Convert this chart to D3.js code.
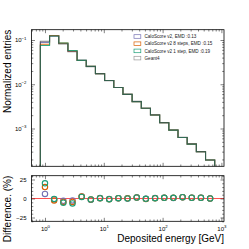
<!DOCTYPE html>
<html>
<head>
<meta charset="utf-8">
<script src="https://cdn.jsdelivr.net/npm/d3@7"></script>
<style>
  html, body { margin: 0; padding: 0; background: #fff; }
  svg { display: block; font-family: "Liberation Sans", Arial, sans-serif; }
</style>
</head>
<body>
<svg width="249" height="249"></svg>
<script>
// bin edges in GeV (log spaced)
const binEdges = [0.835, 1.197, 1.714, 2.455, 3.516, 5.035, 7.21, 10.33, 14.79, 21.18,
  30.34, 43.45, 62.23, 89.13, 127.6, 182.8, 261.8, 375.0, 537.0, 769.1];

// normalized entries per bin
const geant4 = [0.094, 0.123, 0.0812, 0.0544, 0.0354, 0.0250, 0.0174, 0.0121, 0.00847, 0.00592,
  0.00411, 0.00287, 0.00203, 0.00136, 0.000929, 0.000636, 0.000449, 0.000301, 0.000195];
const caloV2 = [0.0884, 0.124, 0.0836, 0.0558, 0.0345, 0.0254, 0.0173, 0.0122, 0.00844, 0.00592,
  0.00406, 0.00288, 0.00202, 0.00135, 0.000922, 0.000625, 0.000445, 0.000298, 0.000195];
const calo8 = [0.080, 0.126, 0.0849, 0.0568, 0.0345, 0.0253, 0.0173, 0.0122, 0.00844, 0.00591,
  0.00406, 0.00288, 0.00202, 0.00135, 0.000921, 0.000625, 0.000445, 0.000298, 0.000195];
const calo1 = [0.075, 0.1236, 0.0857, 0.0579, 0.0347, 0.0253, 0.0173, 0.0122, 0.00844, 0.00592,
  0.00406, 0.00288, 0.00202, 0.00135, 0.000921, 0.000625, 0.000445, 0.000298, 0.000195];

// difference (%) w.r.t. Geant4
const diffV2 = [6, -1, -3, -2.5, 2.5, -1.5, 0.5, -0.8, 0.4, 0, 1.2, -0.4, 0.5, 1, 0.8, 1.8, 1, 1, 0];
const diff8 = [15, -2.5, -4.5, -4.5, 2.5, -1.3, 0.4, -0.9, 0.4, 0.2, 1.3, -0.5, 0.4, 0.9, 0.9, 1.7, 1, 1, 0];
const diff1 = [20, -0.5, -5.5, -6.5, 2, -1.3, 0.4, -0.9, 0.4, 0, 1.3, -0.4, 0.4, 0.9, 0.9, 1.8, 1, 1, 0];

const legendLabels = ['CaloScore v2, EMD :0.13', 'CaloScore v2 8 steps, EMD :0.15',
  'CaloScore v2 1 step, EMD :0.19', 'Geant4'];
const colors = ['#7570b3', '#d95f02', '#1b9e77', '#999999'];

const xMajor = [1, 10, 100, 1000];
const yMajor = [1e-1, 1e-2, 1e-3];
const rMajor = [25, 0, -25];

let left = 31.5, right = 224;
let mainTop = 29.7, mainBottom = 166.3;
let ratioTop = 175.7, ratioBottom = 221.3;

let svg = d3.select('svg');

let x = d3.scaleLog().domain([0.59, 1107]).range([left, right]);
let y = d3.scaleLog().domain([1.4e-4, 0.171]).range([mainBottom, mainTop]);
let yr = d3.scaleLinear().domain([-30, 30]).range([ratioBottom, ratioTop]);

let defs = svg.append('defs');
defs.append('clipPath').attr('id', 'clipMain')
  .append('rect').attr('x', left).attr('y', mainTop).attr('width', right - left).attr('height', mainBottom - mainTop);
defs.append('clipPath').attr('id', 'clipRatio')
  .append('rect').attr('x', left).attr('y', ratioTop).attr('width', right - left).attr('height', ratioBottom - ratioTop);

function minorLog(scale) {
  let d = scale.domain();
  let lo = Math.min(d[0], d[1]), hi = Math.max(d[0], d[1]);
  let out = [];
  for (let e = Math.floor(Math.log10(lo)); e <= Math.ceil(Math.log10(hi)); e++) {
    for (let m = 2; m <= 9; m++) {
      let v = m * Math.pow(10, e);
      if (v >= lo && v <= hi) out.push(v);
    }
  }
  return out;
}

function supLabels(g, fmtExp) {
  g.selectAll('.tick text').each(function(d) {
    let t = d3.select(this);
    t.text(null);
    t.append('tspan').text('10');
    t.append('tspan').attr('font-size', 4.3).attr('dy', -2.6).text(fmtExp(d));
  });
}
const expFmt = d => {
  let e = Math.round(Math.log10(d));
  return e < 0 ? '\u2212' + (-e) : '' + e;
};

function drawFrame(top, bottom, yScale, yMaj, yMin, showX, yLabelFn) {
  let w = right - left;
  let h = bottom - top;
  // x axes bottom/top
  let xb = svg.append('g').attr('transform', `translate(0,${bottom})`)
    .call(d3.axisBottom(x).tickValues(xMajor).tickSize(-3.5).tickPadding(5.5).tickFormat(showX ? d => d : ''));
  if (showX) supLabels(xb, expFmt);
  svg.append('g').attr('transform', `translate(0,${bottom})`)
    .call(d3.axisBottom(x).tickValues(minorLog(x)).tickSize(-1.8).tickFormat(''));
  svg.append('g').attr('transform', `translate(0,${top})`)
    .call(d3.axisTop(x).tickValues(xMajor).tickSize(-3.5).tickFormat(''));
  svg.append('g').attr('transform', `translate(0,${top})`)
    .call(d3.axisTop(x).tickValues(minorLog(x)).tickSize(-1.8).tickFormat(''));
  // y axes left/right
  let yl = svg.append('g').attr('transform', `translate(${left},0)`)
    .call(d3.axisLeft(yScale).tickValues(yMaj).tickSize(-3.5).tickPadding(5).tickFormat(yLabelFn || (d => d)));
  if (!yLabelFn) supLabels(yl, expFmt);
  svg.append('g').attr('transform', `translate(${left},0)`)
    .call(d3.axisLeft(yScale).tickValues(yMin).tickSize(-1.8).tickFormat(''));
  svg.append('g').attr('transform', `translate(${right},0)`)
    .call(d3.axisRight(yScale).tickValues(yMaj).tickSize(-3.5).tickFormat(''));
  svg.append('g').attr('transform', `translate(${right},0)`)
    .call(d3.axisRight(yScale).tickValues(yMin).tickSize(-1.8).tickFormat(''));
  svg.append('rect')
    .attr('x', left).attr('y', top).attr('width', w).attr('height', h)
    .attr('fill', 'none').attr('stroke', '#000').attr('stroke-width', 0.8);
}

// ---- main panel histograms
let series = [caloV2, calo8, calo1, geant4];
let yFloor = y.domain()[0];
let line = d3.line().x(d => x(d[0])).y(d => y(d[1]));

// model lines first, Geant4 drawn on top (dark, semi transparent)
[0, 1, 2, 3].forEach(k => {
  let vals = series[k];
  let pts = [[binEdges[0], yFloor]];
  vals.forEach((v, i) => {
    pts.push([binEdges[i], v]);
    pts.push([binEdges[i + 1], v]);
  });
  pts.push([binEdges[binEdges.length - 1], yFloor]);
  svg.append('path')
    .attr('clip-path', 'url(#clipMain)')
    .attr('d', line(pts))
    .attr('fill', 'none')
    .attr('stroke', k === 3 ? '#3a3a3a' : colors[k])
    .attr('stroke-opacity', k === 3 ? 0.6 : 0.9)
    .attr('stroke-width', 1.1);
});

// ---- ratio panel
svg.append('line')
  .attr('x1', left).attr('x2', right)
  .attr('y1', yr(0)).attr('y2', yr(0))
  .attr('stroke', '#ff3b3b').attr('stroke-width', 0.9);

let centers = binEdges.slice(0, -1).map((e, i) => Math.sqrt(e * binEdges[i + 1]));
[diffV2, diff8, diff1].forEach((diffs, k) => {
  svg.append('g').attr('clip-path', 'url(#clipRatio)')
    .selectAll('circle')
    .data(diffs)
    .enter()
      .append('circle')
      .attr('cx', (d, i) => x(centers[i]))
      .attr('cy', d => yr(d))
      .attr('r', 2.7)
      .attr('fill', 'none')
      .attr('stroke', colors[k])
      .attr('stroke-width', 1.1);
});

drawFrame(mainTop, mainBottom, y, yMajor, minorLog(y), false, null);
drawFrame(ratioTop, ratioBottom, yr, rMajor, d3.range(-30, 31, 5).filter(v => v % 25 !== 0), true,
  d => d < 0 ? '\u2212' + (-d) : '' + d);

svg.selectAll('.domain').remove();
svg.selectAll('.tick line').attr('stroke', '#000').attr('stroke-width', 0.5);
svg.selectAll('.tick text').attr('font-size', 6).attr('fill', '#000')
  .attr('font-family', '"Liberation Sans", Arial, sans-serif');

// ---- legend
let legend = svg.append('g').attr('transform', 'translate(134,34.7)');
legendLabels.forEach((lab, i) => {
  let row = legend.append('g').attr('transform', `translate(0,${i * 7.2})`);
  row.append('rect')
    .attr('x', 0).attr('y', 0).attr('width', 6.8).attr('height', 3.6)
    .attr('fill', 'none').attr('stroke', colors[i]).attr('stroke-width', 0.7);
  row.append('text')
    .attr('x', 10.5).attr('y', 3.5)
    .attr('font-size', 4.6)
    .attr('fill', '#222')
    .text(lab);
});

// ---- axis titles
svg.append('text')
  .attr('transform', `translate(10.5,${mainTop}) rotate(-90)`)
  .attr('text-anchor', 'end')
  .attr('font-size', 10)
  .text('Normalized entries');
svg.append('text')
  .attr('transform', `translate(10.5,${ratioTop}) rotate(-90)`)
  .attr('text-anchor', 'end')
  .attr('font-size', 10)
  .text('Difference. (%)');
svg.append('text')
  .attr('x', right).attr('y', 241.5)
  .attr('text-anchor', 'end')
  .attr('font-size', 10)
  .text('Deposited energy [GeV]');
</script>
</body>
</html>
